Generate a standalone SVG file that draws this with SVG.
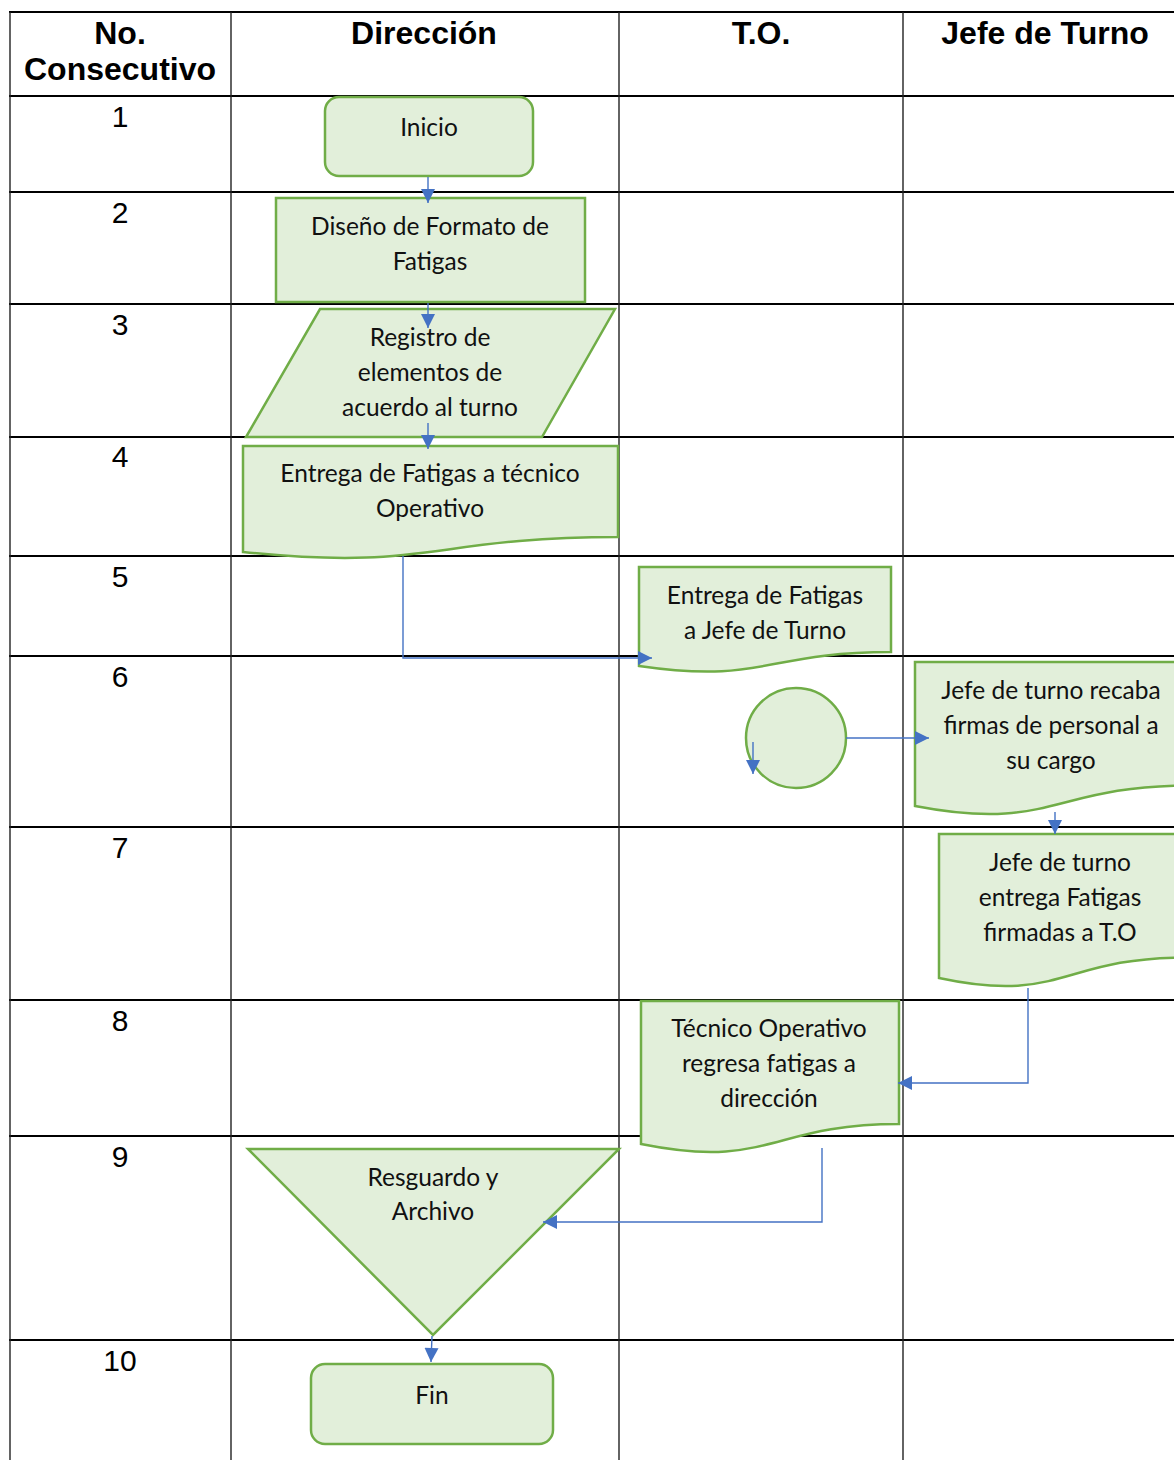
<svg xmlns="http://www.w3.org/2000/svg" width="1174" height="1460" viewBox="0 0 1174 1460">
<style>
.grid-h{stroke:#000;stroke-width:2.2}
.grid-v{stroke:#222;stroke-width:1.4}
.hdr{font-family:"Liberation Sans",Arial,sans-serif;font-weight:bold;font-size:32px;text-anchor:middle;fill:#000}
.num{font-family:"Liberation Sans",Arial,sans-serif;font-size:30px;text-anchor:middle;fill:#000}
.shape{fill:#E2EFDA;stroke:#70AD47;stroke-width:2.5}
.lbl{font-family:Lato,"Open Sans",sans-serif;font-size:24.5px;text-anchor:middle;fill:#111}
.conn{fill:none;stroke:#4472C4;stroke-width:1.4}
</style>
<defs>
<marker id="arr" viewBox="0 0 10 10" refX="10" refY="5" markerUnits="userSpaceOnUse" markerWidth="15" markerHeight="14" orient="auto">
<path d="M0,0 L10,5 L0,10 z" fill="#4472C4"/>
</marker>
</defs>
<rect width="1174" height="1460" fill="#fff"/>
<g id="table">
<line class="grid-h" x1="9" y1="12" x2="1174" y2="12"/>
<line class="grid-h" x1="9" y1="96" x2="1174" y2="96"/>
<line class="grid-h" x1="9" y1="192" x2="1174" y2="192"/>
<line class="grid-h" x1="9" y1="304" x2="1174" y2="304"/>
<line class="grid-h" x1="9" y1="437" x2="1174" y2="437"/>
<line class="grid-h" x1="9" y1="556" x2="1174" y2="556"/>
<line class="grid-h" x1="9" y1="656" x2="1174" y2="656"/>
<line class="grid-h" x1="9" y1="827" x2="1174" y2="827"/>
<line class="grid-h" x1="9" y1="1000" x2="1174" y2="1000"/>
<line class="grid-h" x1="9" y1="1136" x2="1174" y2="1136"/>
<line class="grid-h" x1="9" y1="1340" x2="1174" y2="1340"/>
<line class="grid-v" x1="10" y1="12" x2="10" y2="1460"/>
<line class="grid-v" x1="231" y1="12" x2="231" y2="1460"/>
<line class="grid-v" x1="619" y1="12" x2="619" y2="1460"/>
<line class="grid-v" x1="903" y1="12" x2="903" y2="1460"/>
<text class="hdr" x="120" y="44">No.</text>
<text class="hdr" x="120" y="80">Consecutivo</text>
<text class="hdr" x="424" y="44">Dirección</text>
<text class="hdr" x="761" y="44">T.O.</text>
<text class="hdr" x="1045" y="44">Jefe de Turno</text>
<text class="num" x="120" y="127">1</text>
<text class="num" x="120" y="223">2</text>
<text class="num" x="120" y="335">3</text>
<text class="num" x="120" y="467">4</text>
<text class="num" x="120" y="587">5</text>
<text class="num" x="120" y="687">6</text>
<text class="num" x="120" y="858">7</text>
<text class="num" x="120" y="1031">8</text>
<text class="num" x="120" y="1167">9</text>
<text class="num" x="120" y="1371">10</text>
</g>
<g id="n1">
<rect class="shape" x="325" y="97" width="208" height="79" rx="14"/>
<text class="lbl" x="429" y="136">Inicio</text>
</g>
<g id="n2">
<rect class="shape" x="276" y="198" width="309" height="104"/>
<text class="lbl" x="430" y="235">Diseño de Formato de</text>
<text class="lbl" x="430" y="270">Fatigas</text>
</g>
<g id="n3">
<polygon class="shape" points="320,309 615,309 542,437 246,437"/>
<text class="lbl" x="430" y="346">Registro de</text>
<text class="lbl" x="430" y="381">elementos de</text>
<text class="lbl" x="430" y="416">acuerdo al turno</text>
</g>
<g id="n4">
<path class="shape" d="M243,446 H618 V537 C430.5,537 430.5,571.6 243,552 Z"/>
<text class="lbl" x="430" y="482">Entrega de Fatigas a técnico</text>
<text class="lbl" x="430" y="517">Operativo</text>
</g>
<g id="n5">
<path class="shape" d="M639,567 H891 V652 C765,652 765,684.3 639,666 Z"/>
<text class="lbl" x="765" y="604">Entrega de Fatigas</text>
<text class="lbl" x="765" y="639">a Jefe de Turno</text>
</g>
<g id="n6">
<circle class="shape" cx="796" cy="738" r="50"/>
</g>
<g id="n7">
<path class="shape" d="M915,662 H1190 V785.5 C1052.5,785.5 1052.5,832.5 915,806 Z"/>
<text class="lbl" x="1051" y="699">Jefe de turno recaba</text>
<text class="lbl" x="1051" y="734">firmas de personal a</text>
<text class="lbl" x="1051" y="769">su cargo</text>
</g>
<g id="n8">
<path class="shape" d="M939,834 H1185 V957.5 C1062,957.5 1062,1004.5 939,978 Z"/>
<text class="lbl" x="1060" y="871">Jefe de turno</text>
<text class="lbl" x="1060" y="906">entrega Fatigas</text>
<text class="lbl" x="1060" y="941">firmadas a T.O</text>
</g>
<g id="n9">
<path class="shape" d="M641,1001 H899 V1124 C770,1124 770,1170 641,1144 Z"/>
<text class="lbl" x="769" y="1037">Técnico Operativo</text>
<text class="lbl" x="769" y="1072">regresa fatigas a</text>
<text class="lbl" x="769" y="1107">dirección</text>
</g>
<g id="n10">
<polygon class="shape" points="248,1149 619,1149 433,1335"/>
<text class="lbl" x="433" y="1186">Resguardo y</text>
<text class="lbl" x="433" y="1220">Archivo</text>
</g>
<g id="n11">
<rect class="shape" x="311" y="1364" width="242" height="80" rx="14"/>
<text class="lbl" x="432" y="1404">Fin</text>
</g>
<g id="connectors">
<line class="conn" x1="428" y1="177" x2="428" y2="203" marker-end="url(#arr)"/>
<line class="conn" x1="428" y1="303" x2="428" y2="328" marker-end="url(#arr)"/>
<line class="conn" x1="428" y1="423" x2="428" y2="449" marker-end="url(#arr)"/>
<polyline class="conn" points="403,556 403,658 652,658" marker-end="url(#arr)"/>
<line class="conn" x1="753" y1="742" x2="753" y2="774" marker-end="url(#arr)"/>
<line class="conn" x1="846" y1="738" x2="929" y2="738" marker-end="url(#arr)"/>
<line class="conn" x1="1055" y1="812" x2="1055" y2="834" marker-end="url(#arr)"/>
<polyline class="conn" points="1028,988 1028,1083 898,1083" marker-end="url(#arr)"/>
<polyline class="conn" points="822,1148 822,1222 543,1222" marker-end="url(#arr)"/>
<line class="conn" x1="432" y1="1336" x2="431" y2="1362" marker-end="url(#arr)"/>
</g>
</svg>
